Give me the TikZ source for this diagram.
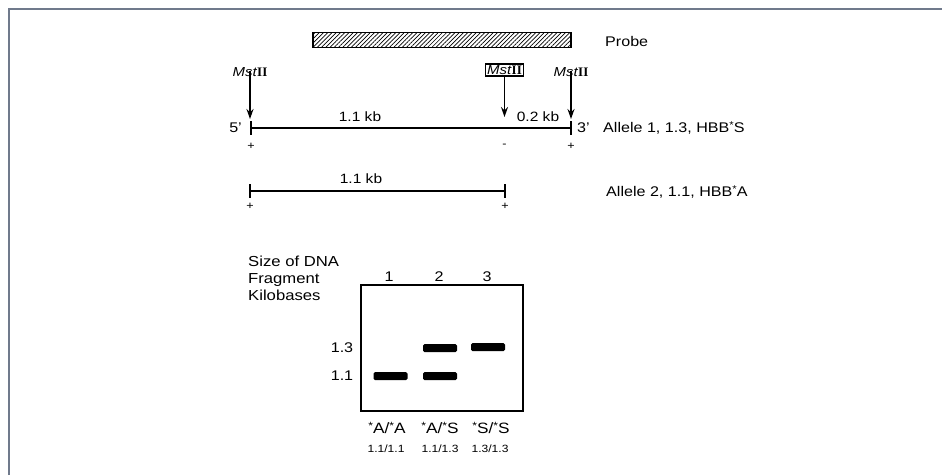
\documentclass[tikz,border=0pt]{standalone}
\usepackage{fontspec}
\setmainfont[FakeStretch=1.15]{Liberation Sans}
\newfontfamily\romanII{Liberation Serif}
\usetikzlibrary{patterns.meta,arrows.meta}
\definecolor{framegray}{RGB}{112,122,140}
\newcommand{\Mst}{\textit{Mst}{\romanII\bfseries II}}
\newcommand{\hs}{\raisebox{0.45ex}{\scalebox{0.7}{*}}}
\tikzset{
  lbl/.style={inner sep=0pt, font=\fontsize{14}{16}\selectfont},
  kb/.style={inner sep=0pt, font=\fontsize{13.5}{15}\selectfont},
  mst/.style={inner sep=0pt, font=\fontsize{13}{15}\selectfont},
  sign/.style={inner sep=0pt, font=\fontsize{11}{12}\selectfont},
  gtype/.style={inner sep=0pt, font=\fontsize{15}{17}\selectfont},
  gnum/.style={inner sep=0pt, font=\fontsize{10.5}{12}\selectfont},
  dnaline/.style={line width=1.6pt},
  tick/.style={line width=2pt},
  cut/.style={line width=1.5pt, -{Stealth[length=10pt,width=7pt]}},
  band/.style={fill=black, rounded corners=1.5pt, minimum width=34pt, minimum height=8pt, inner sep=0pt},
  frameline/.style={draw=framegray, line width=1.5pt}
}
\begin{document}
\begin{tikzpicture}[x=1pt,y=-1pt]
\useasboundingbox (0,0) rectangle (942,475);
% frame
\draw[frameline] (9,475) -- (9,9) -- (942,9);
% probe
\node (probe) [draw, line width=1.5pt, minimum width=258pt, minimum height=15pt, inner sep=0pt,
  pattern={Lines[angle=45,distance=3pt,line width=0.7pt]}] at (442,40) {};
\node (probelbl) [lbl, anchor=west] at (605,41) {Probe};
% MstII sites
\node (m1) [mst] at (250,72) {\Mst};
\node (m2) [mst, draw, line width=1.2pt, inner sep=1.5pt] at (504.5,70) {\Mst};
\node (m3) [mst] at (571,72) {\Mst};
\coordinate (t1) at (250,119);
\coordinate (t2) at (504.5,117);
\coordinate (t3) at (571,119);
\draw[cut] (m1.south) ++(0,-6) -- (t1);
\draw[cut] (m2.south) -- (t2);
\draw[cut] (m3.south) ++(0,-6) -- (t3);
% allele 1
\coordinate (a1) at (251,128);
\coordinate (b1) at (571,128);
\draw[dnaline] (a1) -- (b1);
\draw[tick] (a1) ++(0,-7) -- ++(0,14);
\draw[tick] (b1) ++(0,-7) -- ++(0,14);
\node (p5) [lbl, anchor=east] at (242,128) {5'};
\node (p3) [lbl, anchor=west] at (577,128) {3'};
\node (kb11) [kb] at (360,117) {1.1 kb};
\node (kb02) [kb] at (538,117) {0.2 kb};
\node (s1) [sign] at (251,146) {+};
\node (s2) [sign] at (504.5,146) {-};
\node (s3) [sign] at (571,146) {+};
\node (al1) [lbl, anchor=west] at (603,128) {Allele 1, 1.3, HBB\hs S};
% allele 2
\coordinate (a2) at (250,191);
\coordinate (b2) at (505,191);
\draw[dnaline] (a2) -- (b2);
\draw[tick] (a2) ++(0,-7) -- ++(0,14);
\draw[tick] (b2) ++(0,-7) -- ++(0,14);
\node (kb11b) [kb] at (361,179) {1.1 kb};
\node (s4) [sign] at (250,206) {+};
\node (s5) [sign] at (505,206) {+};
\node (al2) [lbl, anchor=west] at (606,192) {Allele 2, 1.1, HBB\hs A};
% gel
\node (size) [lbl, anchor=north west, align=left, font=\fontsize{14.5}{17}\selectfont] at (248,256)
  {Size of DNA\\Fragment\\Kilobases};
\node (gel) [draw, line width=2pt, minimum width=162pt, minimum height=126pt, inner sep=0pt] at (441.5,348) {};
\node (l1) [lbl] at (389,277) {1};
\node (l2) [lbl] at (439,277) {2};
\node (l3) [lbl] at (487,277) {3};
\node (k13) [lbl] at (342,348) {1.3};
\node (k11) [lbl] at (342,376) {1.1};
\node (bd1) [band] at (390.5,376) {};
\node (bd2) [band] at (440,376) {};
\node (bd3) [band] at (440,348) {};
\node (bd4) [band] at (488,347) {};
\node (g1) [gtype] at (387,428) {\hs A/\hs A};
\node (g2) [gtype] at (440,428) {\hs A/\hs S};
\node (g3) [gtype] at (491,428) {\hs S/\hs S};
\node (n1) [gnum] at (386,449) {1.1/1.1};
\node (n2) [gnum] at (440,449) {1.1/1.3};
\node (n3) [gnum] at (490,449) {1.3/1.3};
\end{tikzpicture}
\end{document}
